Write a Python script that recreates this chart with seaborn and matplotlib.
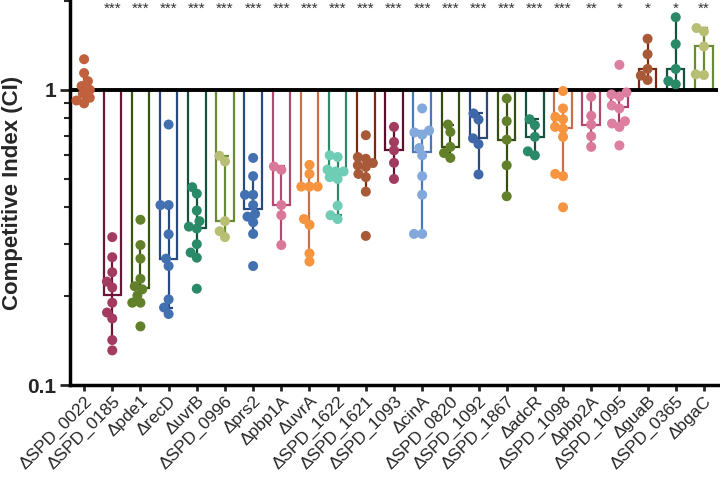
import math
import numpy as np
import pandas as pd
import seaborn as sns
import matplotlib.pyplot as plt
from matplotlib.ticker import FixedLocator, LogLocator, NullFormatter

# competitive index per mouse, one list per mutant
spd_0022 = [1.27, 1.14, 1.07, 1.03, 1.00, 0.97, 0.94, 0.92, 0.90]
spd_0185 = [0.317, 0.271, 0.241, 0.224, 0.214, 0.190, 0.176, 0.168, 0.142, 0.131]
pde1 = [0.363, 0.298, 0.268, 0.229, 0.216, 0.211, 0.201, 0.190, 0.190, 0.158]
recd = [0.763, 0.407, 0.407, 0.324, 0.268, 0.253, 0.195, 0.183, 0.174]
uvrb = [0.468, 0.445, 0.390, 0.359, 0.344, 0.339, 0.300, 0.281, 0.270, 0.212]
spd_0996 = [0.598, 0.572, 0.359, 0.332, 0.317]
prs2 = [0.588, 0.510, 0.441, 0.441, 0.407, 0.380, 0.372, 0.356, 0.325, 0.253]
pbp1a = [0.550, 0.536, 0.407, 0.376, 0.298]
uvra = [0.557, 0.519, 0.470, 0.470, 0.470, 0.365, 0.349, 0.279, 0.262]
spd_1622 = [0.600, 0.592, 0.537, 0.529, 0.529, 0.506, 0.499, 0.405, 0.376, 0.365]
spd_1621 = [0.702, 0.592, 0.584, 0.565, 0.555, 0.548, 0.519, 0.506, 0.452, 0.320]
spd_1093 = [0.749, 0.666, 0.624, 0.566, 0.499]
cina = [0.865, 0.728, 0.717, 0.705, 0.635, 0.600, 0.510, 0.441, 0.325, 0.325]
spd_0820 = [0.763, 0.720, 0.641, 0.611, 0.588]
spd_1092 = [0.832, 0.793, 0.685, 0.655, 0.517]
spd_1867 = [0.935, 0.783, 0.678, 0.555, 0.436]
adcr = [0.795, 0.759, 0.693, 0.619, 0.600]
spd_1098 = [0.991, 0.865, 0.810, 0.795, 0.749, 0.739, 0.693, 0.519, 0.510, 0.400]
pbp2a = [0.948, 0.817, 0.763, 0.696, 0.641]
spd_1095 = [1.215, 0.980, 0.965, 0.950, 0.885, 0.865, 0.783, 0.769, 0.749, 0.648]
guab = [1.49, 1.32, 1.177, 1.118, 1.080]
spd_0365 = [1.762, 1.429, 1.177, 1.071, 1.044]
bgac = [1.62, 1.578, 1.403, 1.129, 1.123]

labels = ["\u0394SPD_0022", "\u0394SPD_0185", "\u0394pde1", "\u0394recD", "\u0394uvrB",
          "\u0394SPD_0996", "\u0394prs2", "\u0394pbp1A", "\u0394uvrA", "\u0394SPD_1622",
          "\u0394SPD_1621", "\u0394SPD_1093", "\u0394cinA", "\u0394SPD_0820", "\u0394SPD_1092",
          "\u0394SPD_1867", "\u0394adcR", "\u0394SPD_1098", "\u0394pbp2A", "\u0394SPD_1095",
          "\u0394guaB", "\u0394SPD_0365", "\u0394bgaC"]
series = [spd_0022, spd_0185, pde1, recd, uvrb, spd_0996, prs2, pbp1a, uvra, spd_1622,
          spd_1621, spd_1093, cina, spd_0820, spd_1092, spd_1867, adcr, spd_1098, pbp2a,
          spd_1095, guab, spd_0365, bgac]
stars = ["", "***", "***", "***", "***", "***", "***", "***", "***", "***", "***", "***",
         "***", "***", "***", "***", "***", "***", "**", "*", "*", "*", "**"]

# dot colours and the darker outline colours of the bars
dot_colors = ["#c0603c", "#a33a60", "#62802a", "#4270b0", "#2a8a68", "#b8bf74", "#4270b0",
              "#d97898", "#f79440", "#6ecdb4", "#a85a38", "#a33a60", "#82a8dc", "#62802a",
              "#4068a8", "#62802a", "#2a8a68", "#f79440", "#d97898", "#dd7fa0", "#a85a38",
              "#2a8a68", "#b8bf74"]
bar_colors = ["#a04a2c", "#6a1538", "#3a5212", "#2a4a7e", "#17503e", "#6a8c30", "#2a4a7e",
              "#b04a70", "#c8704c", "#2a8a6a", "#7a2a0e", "#5c1030", "#4a78b8", "#364e10",
              "#2a4878", "#364e10", "#17503e", "#c8704c", "#b04a70", "#a83c68", "#7a2a0e",
              "#17503e", "#6a8c30"]


def median_ci(vals):
    """ Median and its 95% confidence interval from the binomial ranks. """
    s = np.sort(vals)
    n = len(s)
    j = 1
    while j + 1 <= n // 2 and sum(math.comb(n, k) for k in range(j + 1)) / 2 ** n <= 0.025:
        j += 1
    return np.median(s), s[j - 1], s[n - j]


df = pd.DataFrame({
    "strain": [lab for lab, vals in zip(labels, series) for _ in vals],
    "ci": [v for vals in series for v in vals],
})

sns.set_theme(style="ticks")
plt.rcParams["font.family"] = ["Liberation Sans", "DejaVu Sans"]

fig = plt.figure(figsize=(7.2, 4.86), dpi=100)
ax = fig.add_axes([70 / 720, 101 / 486, 648 / 720, 384 / 486])
ax.set_yscale("log")
ax.set_ylim(0.1, 2)
ax.set_xlim(-0.65, 22.83)

stats = [median_ci(vals) for vals in series]
medians = [s[0] for s in stats]
xs = np.arange(len(labels))

# floating bars from 1 to the median
ax.bar(xs, [m - 1 for m in medians], bottom=1, width=0.62, fill=False,
       edgecolor=bar_colors, linewidth=1.6, zorder=2)

for i, (med, lo, hi) in enumerate(stats):
    ax.errorbar(i, med, yerr=[[med - lo], [hi - med]], color=bar_colors[i], lw=1.6,
                capsize=3, capthick=1.6, zorder=3)

ax.axhline(1, color="black", lw=2.8, zorder=3.5)

# swarm is laid out with smaller markers so the dots overlap like the original
n_before = len(ax.collections)
sns.swarmplot(data=df, x="strain", y="ci", hue="strain", order=labels, hue_order=labels,
              palette=dict(zip(labels, dot_colors)), size=5.6, linewidth=0, legend=False,
              ax=ax, zorder=4)
fig.canvas.draw()
for coll in ax.collections[n_before:]:
    if "draw" in vars(coll):
        del coll.draw
    coll.set_sizes([7.2 ** 2])

for i, s in enumerate(stars):
    ax.text(i, 0.997, s, transform=ax.get_xaxis_transform(), ha="center", va="top",
            fontsize=11, color="#333333")

ax.yaxis.set_major_locator(FixedLocator([0.1, 1]))
ax.set_yticklabels(["0.1", "1"], fontsize=15, fontweight="bold")
ax.yaxis.set_minor_locator(LogLocator(subs=np.arange(2, 10)))
ax.yaxis.set_minor_formatter(NullFormatter())
ax.tick_params(axis="y", which="major", length=7, width=2, pad=3)
ax.tick_params(axis="y", which="minor", length=4, width=1.5)
ax.tick_params(axis="x", length=4, width=2, pad=2)

ax.set_xticks(xs)
ax.set_xticklabels(labels, rotation=45, ha="right", rotation_mode="anchor", fontsize=12.5)
ax.set_xlabel("")
ax.set_ylabel("Competitive Index (CI)", fontsize=16, fontweight="bold", labelpad=3)

sns.despine(ax=ax)
for side in ["left", "bottom"]:
    ax.spines[side].set_linewidth(2.5)
    ax.spines[side].set_color("black")

fig.savefig("out.png", dpi=100)
